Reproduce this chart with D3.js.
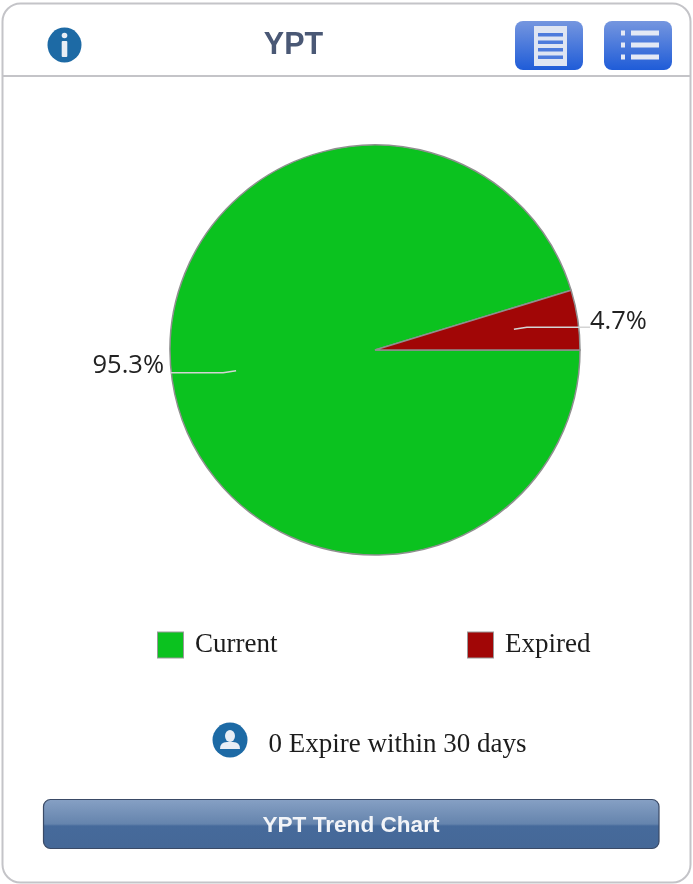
<!DOCTYPE html>
<html>
<head>
<meta charset="utf-8">
<script src="https://d3js.org/d3.v7.min.js"></script>
<style>
html, body { margin: 0; padding: 0; background: #fff; }
svg { display: block; filter: blur(0.5px); }
</style>
</head>
<body>
<script>
const categories = ["Current", "Expired"];
const values = [95.3, 4.7];
const colors = ["#0bc21f", "#a10606"];
const title = "YPT";
const expireNote = "0 Expire within 30 days";
const buttonLabel = "YPT Trend Chart";

const width = 693;
const height = 884;
const center = { x: 375, y: 350 };
const radius = 205;

let svg = d3.select("body").append("svg")
    .attr("width", width)
    .attr("height", height);

let defs = svg.append("defs");

let blueGrad = defs.append("linearGradient")
    .attr("id", "iconBlue").attr("x1", 0).attr("y1", 0).attr("x2", 0).attr("y2", 1);
blueGrad.append("stop").attr("offset", "0%").attr("stop-color", "#7596df");
blueGrad.append("stop").attr("offset", "100%").attr("stop-color", "#1f5cd8");

let btnGrad = defs.append("linearGradient")
    .attr("id", "btnBlue").attr("x1", 0).attr("y1", 0).attr("x2", 0).attr("y2", 1);
btnGrad.append("stop").attr("offset", "0%").attr("stop-color", "#86a0c4");
btnGrad.append("stop").attr("offset", "50%").attr("stop-color", "#6584ad");
btnGrad.append("stop").attr("offset", "54%").attr("stop-color", "#466a9b");
btnGrad.append("stop").attr("offset", "100%").attr("stop-color", "#456897");

// panel
svg.append("rect")
    .attr("x", 2.5).attr("y", 3.5)
    .attr("width", 688).attr("height", 879)
    .attr("rx", 18)
    .attr("fill", "#fff")
    .attr("stroke", "#c4c4c8")
    .attr("stroke-width", 2);
svg.append("line")
    .attr("x1", 3).attr("x2", 690)
    .attr("y1", 76).attr("y2", 76)
    .attr("stroke", "#c4c4c8")
    .attr("stroke-width", 2);

// header
let info = svg.append("g").attr("transform", "translate(64.5,45)");
info.append("ellipse").attr("rx", 17).attr("ry", 17.5).attr("fill", "#1d6aa5");
info.append("circle").attr("cy", -9.5).attr("r", 2.8).attr("fill", "#e8eef5");
info.append("rect").attr("x", -2.8).attr("y", -4).attr("width", 5.6).attr("height", 16).attr("rx", 1).attr("fill", "#e8eef5");

svg.append("text")
    .attr("x", 293.5).attr("y", 54)
    .attr("text-anchor", "middle")
    .style("font-family", "'Liberation Sans', sans-serif")
    .style("font-weight", "bold")
    .style("font-size", "30.5px")
    .attr("fill", "#4a5875")
    .text(title);

let docBtn = svg.append("g").attr("transform", "translate(515,21)");
docBtn.append("rect").attr("width", 68).attr("height", 49).attr("rx", 8).attr("fill", "url(#iconBlue)");
docBtn.append("rect").attr("x", 19).attr("y", 5).attr("width", 33).attr("height", 40).attr("fill", "#dfe5f2");
d3.range(4).forEach(i => {
    docBtn.append("rect")
        .attr("x", 23).attr("y", 12 + i * 7.5)
        .attr("width", 25).attr("height", 3.5)
        .attr("fill", "#4d7bdc");
});

let listBtn = svg.append("g").attr("transform", "translate(604,21)");
listBtn.append("rect").attr("width", 68).attr("height", 49).attr("rx", 8).attr("fill", "url(#iconBlue)");
d3.range(3).forEach(i => {
    listBtn.append("rect")
        .attr("x", 17).attr("y", 9.5 + i * 12)
        .attr("width", 4).attr("height", 5)
        .attr("fill", "#e4e9f5");
    listBtn.append("rect")
        .attr("x", 27).attr("y", 9.5 + i * 12)
        .attr("width", 28).attr("height", 5)
        .attr("fill", "#e4e9f5");
});

// pie
let pie = d3.pie()
    .sort(null)
    .startAngle(Math.PI / 2)
    .endAngle(Math.PI / 2 + 2 * Math.PI);

let arc = d3.arc().innerRadius(0).outerRadius(radius);

let pieData = pie(values);

let pieG = svg.append("g")
    .attr("transform", `translate(${center.x},${center.y})`);

pieG.selectAll(".slice")
    .data(pieData)
    .enter()
    .append("path")
    .attr("class", "slice")
    .attr("d", arc)
    .attr("fill", (d, i) => colors[i])
    .attr("stroke", "#8f8f8f")
    .attr("stroke-width", 1.5);

// leader lines start inside the slice and run out past the rim
let innerPoint = d => {
    let a = (d.startAngle + d.endAngle) / 2;
    return [Math.sin(a) * radius * 0.685, -Math.cos(a) * radius * 0.685];
};

pieG.selectAll(".leader")
    .data(pieData)
    .enter()
    .append("path")
    .attr("class", "leader")
    .attr("fill", "none")
    .attr("stroke", "#d4d4d4")
    .attr("stroke-width", 1.5)
    .attr("d", d => {
        let p = innerPoint(d);
        let side = p[0] > 0 ? 1 : -1;
        let bendY = p[1] + (side > 0 ? -2 : 2);
        return d3.line()([p, [p[0] + side * 13, bendY], [side * (radius + (side > 0 ? 10 : 0)), bendY]]);
    });

pieG.selectAll(".pct")
    .data(pieData)
    .enter()
    .append("text")
    .attr("class", "pct")
    .attr("x", d => innerPoint(d)[0] > 0 ? radius + 10 : -(radius + 6))
    .attr("y", d => innerPoint(d)[1] + (innerPoint(d)[0] > 0 ? 0 : 2))
    .attr("text-anchor", d => innerPoint(d)[0] > 0 ? "start" : "end")
    .style("font-family", "'Open Sans', sans-serif")
    .style("font-size", "25.5px")
    .attr("fill", "#222")
    .text(d => d.data + "%");

// legend
let legendX = d3.scalePoint().domain(categories).range([157.5, 467.5]);

let legend = svg.selectAll(".legend")
    .data(categories)
    .enter()
    .append("g")
    .attr("class", "legend")
    .attr("transform", d => `translate(${legendX(d)},632)`);

legend.append("rect")
    .attr("width", 26).attr("height", 26)
    .attr("fill", (d, i) => colors[i])
    .attr("stroke", "#999")
    .attr("stroke-width", 1);

legend.append("text")
    .attr("x", 37.5).attr("y", 20)
    .style("font-family", "'Liberation Serif', serif")
    .style("font-size", "27px")
    .attr("fill", "#1c1c1c")
    .text(d => d);

// expiry note
let person = svg.append("g").attr("transform", "translate(230,740)");
person.append("circle").attr("r", 17.5).attr("fill", "#1d6aa5");
person.append("ellipse").attr("cy", -4).attr("rx", 5).attr("ry", 6).attr("fill", "#e8eef5");
person.append("path").attr("d", "M-10,9 Q-10,2 -3,2 L3,2 Q10,2 10,9 Z").attr("fill", "#e8eef5");

svg.append("text")
    .attr("x", 268.5).attr("y", 752)
    .style("font-family", "'Liberation Serif', serif")
    .style("font-size", "27px")
    .attr("fill", "#1c1c1c")
    .text(expireNote);

// trend button
svg.append("rect")
    .attr("x", 43.5).attr("y", 799.5)
    .attr("width", 615.5).attr("height", 49)
    .attr("rx", 7)
    .attr("fill", "url(#btnBlue)")
    .attr("stroke", "#3a4a66")
    .attr("stroke-width", 1.2);

svg.append("text")
    .attr("x", 351).attr("y", 832)
    .attr("text-anchor", "middle")
    .style("font-family", "'Liberation Sans', sans-serif")
    .style("font-weight", "bold")
    .style("font-size", "22.6px")
    .attr("fill", "#f2f4f8")
    .text(buttonLabel);
</script>
</body>
</html>
